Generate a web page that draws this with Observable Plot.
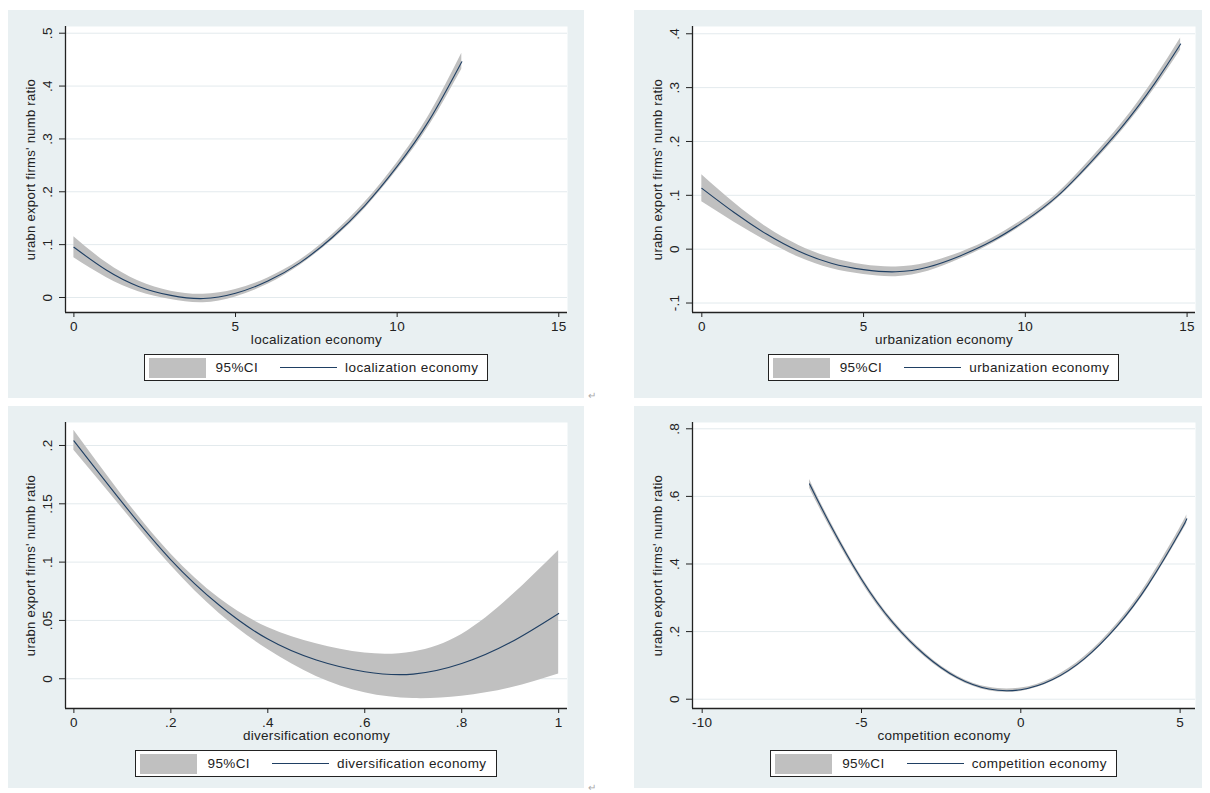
<!DOCTYPE html>
<html><head><meta charset="utf-8">
<script src="https://cdn.jsdelivr.net/npm/d3@7"></script>
<script src="https://cdn.jsdelivr.net/npm/@observablehq/plot@0.6"></script>
<style>
body{margin:0;background:#fff;width:1210px;height:793px;position:relative;overflow:hidden;font-family:"Liberation Sans",Arial,sans-serif;}
.panel{position:absolute;background:#e9f0f2;}
.panel svg{position:absolute;left:0;top:0;}
.legend{position:absolute;display:flex;justify-content:center;}
.lbox{display:flex;align-items:center;box-sizing:border-box;height:27px;border:1px solid #222;background:#fff;padding:0 9px 0 4px;font-size:13.5px;color:#222;letter-spacing:0.4px;white-space:nowrap;}
.sw{width:57px;height:20px;margin-right:10px;}
.ln{width:57px;height:0;margin:0 8px 0 22px;}
.ret{position:absolute;font-size:10px;color:#aaa;}
</style></head><body>
<script>
// ---- data ----
const yTitle = "urabn export firms' numb ratio";
const ciLabel = "95%CI";

const locTitle = "localization economy";
const locX  = [0, 1, 2, 3, 4, 5, 6, 7, 8, 9, 10, 11, 12];
const locY  = [0.095, 0.052, 0.021, 0.004, -0.002, 0.008, 0.031, 0.066, 0.114, 0.174, 0.248, 0.336, 0.446];
const locLo = [0.075, 0.038, 0.011, -0.004, -0.010, 0.001, 0.025, 0.061, 0.109, 0.168, 0.241, 0.326, 0.432];
const locHi = [0.115, 0.066, 0.031, 0.012, 0.006, 0.015, 0.037, 0.071, 0.119, 0.180, 0.255, 0.346, 0.462];
const locXTicks = [0, 5, 10, 15];
const locYTicks = [0, 0.1, 0.2, 0.3, 0.4, 0.5];

const urbTitle = "urbanization economy";
const urbX  = [0, 1, 2, 3, 4, 5, 6, 7, 8, 9, 10, 11, 12, 13, 14, 14.8];
const urbY  = [0.113, 0.068, 0.028, -0.004, -0.026, -0.038, -0.042, -0.033, -0.012, 0.016, 0.053, 0.099, 0.160, 0.228, 0.308, 0.381];
const urbLo = [0.088, 0.050, 0.015, -0.015, -0.036, -0.047, -0.051, -0.041, -0.018, 0.011, 0.048, 0.094, 0.154, 0.221, 0.299, 0.370];
const urbHi = [0.138, 0.086, 0.041, 0.007, -0.016, -0.029, -0.033, -0.025, -0.006, 0.021, 0.058, 0.104, 0.166, 0.235, 0.317, 0.392];
const urbXTicks = [0, 5, 10, 15];
const urbYTicks = [-0.1, 0, 0.1, 0.2, 0.3, 0.4];

const divTitle = "diversification economy";
const divX  = [0, 0.1, 0.2, 0.3, 0.4, 0.5, 0.6, 0.7, 0.8, 0.9, 1.0];
const divY  = [0.204, 0.151, 0.102, 0.063, 0.034, 0.016, 0.006, 0.004, 0.013, 0.031, 0.056];
const divLo = [0.196, 0.146, 0.097, 0.056, 0.025, 0.002, -0.012, -0.017, -0.015, -0.008, 0.004];
const divHi = [0.213, 0.157, 0.107, 0.069, 0.044, 0.030, 0.022, 0.023, 0.038, 0.070, 0.110];
const divXTicks = [0, 0.2, 0.4, 0.6, 0.8, 1];
const divYTicks = [0, 0.05, 0.1, 0.15, 0.2];

const comTitle = "competition economy";
const comX  = [-6.63, -6, -5, -4, -3, -2, -1, 0, 1, 2, 3, 4, 5, 5.21];
const comY  = [0.637, 0.520, 0.355, 0.225, 0.130, 0.064, 0.030, 0.028, 0.058, 0.120, 0.214, 0.339, 0.496, 0.534];
const comLo = [0.624, 0.510, 0.347, 0.218, 0.124, 0.059, 0.025, 0.023, 0.053, 0.114, 0.207, 0.330, 0.485, 0.521];
const comHi = [0.650, 0.530, 0.363, 0.232, 0.136, 0.069, 0.035, 0.033, 0.063, 0.126, 0.221, 0.348, 0.507, 0.547];
const comXTicks = [-10, -5, 0, 5];
const comYTicks = [0, 0.2, 0.4, 0.6, 0.8];

// ---- style ----
const BAND = "#c0c0c0";
const LINE = "#1f3f63";
const fmt = d => String(+(+d).toFixed(4)).replace(/^(-?)0\./, "$1.");

function rowsOf(xs, ys, lo, hi) {
  return xs.map((x, i) => ({x, y: ys[i], lo: lo[i], hi: hi[i]}));
}

function panel(cfg) {
  const div = document.createElement("div");
  div.className = "panel";
  Object.assign(div.style, {left: cfg.left + "px", top: cfg.top + "px", width: cfg.w + "px", height: cfg.h + "px"});
  const rows = rowsOf(cfg.xs, cfg.ys, cfg.lo, cfg.hi);
  const H = 340, mt = 16, mb = 38;
  const svg = Plot.plot({
    width: cfg.w, height: H,
    marginLeft: cfg.ml, marginRight: cfg.mr, marginTop: mt, marginBottom: mb,
    x: {domain: cfg.xDom},
    y: {domain: cfg.yDom},
    style: {background: "transparent", fontFamily: "'Liberation Sans', Arial, sans-serif", fontSize: "13.5px", color: "#222", overflow: "visible", letterSpacing: "0.3px"},
    marks: [
      Plot.frame({fill: "white", stroke: "none"}),
      Plot.gridY(cfg.yTicks, {stroke: "#e3eaed", strokeOpacity: 1}),
      Plot.areaY(rows, {x: "x", y1: "lo", y2: "hi", fill: BAND, curve: "natural"}),
      Plot.lineY(rows, {x: "x", y: "y", stroke: LINE, strokeWidth: 1.1, curve: "natural"}),
      Plot.ruleX([cfg.xDom[0]], {stroke: "#222", strokeWidth: 1.3}),
      Plot.ruleY([cfg.yDom[0]], {stroke: "#222", strokeWidth: 1.3}),
      Plot.axisX(cfg.xTicks, {tickFormat: fmt, tickSize: 5, tickPadding: 4, label: null}),
      Plot.axisY(cfg.yTicks, {tickFormat: fmt, tickRotate: -90, tickSize: 6, tickPadding: 8, label: null}),
      Plot.text([cfg.title], {frameAnchor: "bottom", dy: 27, lineAnchor: "middle", textAnchor: "middle", text: d => d, fontSize: 13.5}),
      Plot.text([yTitle], {frameAnchor: "left", dx: -35, rotate: -90, textAnchor: "middle", lineAnchor: "middle", text: d => d, fontSize: 13})
    ]
  });
  div.appendChild(svg);
  const lg = document.createElement("div");
  lg.className = "legend";
  Object.assign(lg.style, {left: cfg.ml + "px", width: (cfg.w - cfg.ml - cfg.mr) + "px", top: cfg.legTop + "px"});
  lg.innerHTML = `<div class="lbox"><div class="sw" style="background:${BAND}"></div><span>${ciLabel}</span><div class="ln" style="border-top:1px solid ${LINE}"></div><span>${cfg.title}</span></div>`;
  div.appendChild(lg);
  document.body.appendChild(div);
}

panel({left: 8, top: 10, w: 576, h: 388, ml: 57, mr: 17, legTop: 344,
  xs: locX, ys: locY, lo: locLo, hi: locHi, xDom: [-0.26, 15.27], yDom: [-0.0284, 0.5127],
  xTicks: locXTicks, yTicks: locYTicks, title: locTitle});
panel({left: 634, top: 10, w: 568, h: 388, ml: 58, mr: 7, legTop: 344,
  xs: urbX, ys: urbY, lo: urbLo, hi: urbHi, xDom: [-0.288, 15.26], yDom: [-0.1176, 0.4135],
  xTicks: urbXTicks, yTicks: urbYTicks, title: urbTitle});
panel({left: 8, top: 406, w: 576, h: 382, ml: 57, mr: 17, legTop: 344,
  xs: divX, ys: divY, lo: divLo, hi: divHi, xDom: [-0.0173, 1.0182], yDom: [-0.0255, 0.2197],
  xTicks: divXTicks, yTicks: divYTicks, title: divTitle});
panel({left: 634, top: 406, w: 568, h: 382, ml: 58, mr: 7, legTop: 344,
  xs: comX, ys: comY, lo: comLo, hi: comHi, xDom: [-10.304, 5.483], yDom: [-0.0275, 0.8186],
  xTicks: comXTicks, yTicks: comYTicks, title: comTitle});

for (const [l, t] of [[588, 390], [588, 782]]) {
  const s = document.createElement("span");
  s.className = "ret"; s.textContent = "\u21B5";
  s.style.left = l + "px"; s.style.top = t + "px";
  document.body.appendChild(s);
}
</script></body></html>
